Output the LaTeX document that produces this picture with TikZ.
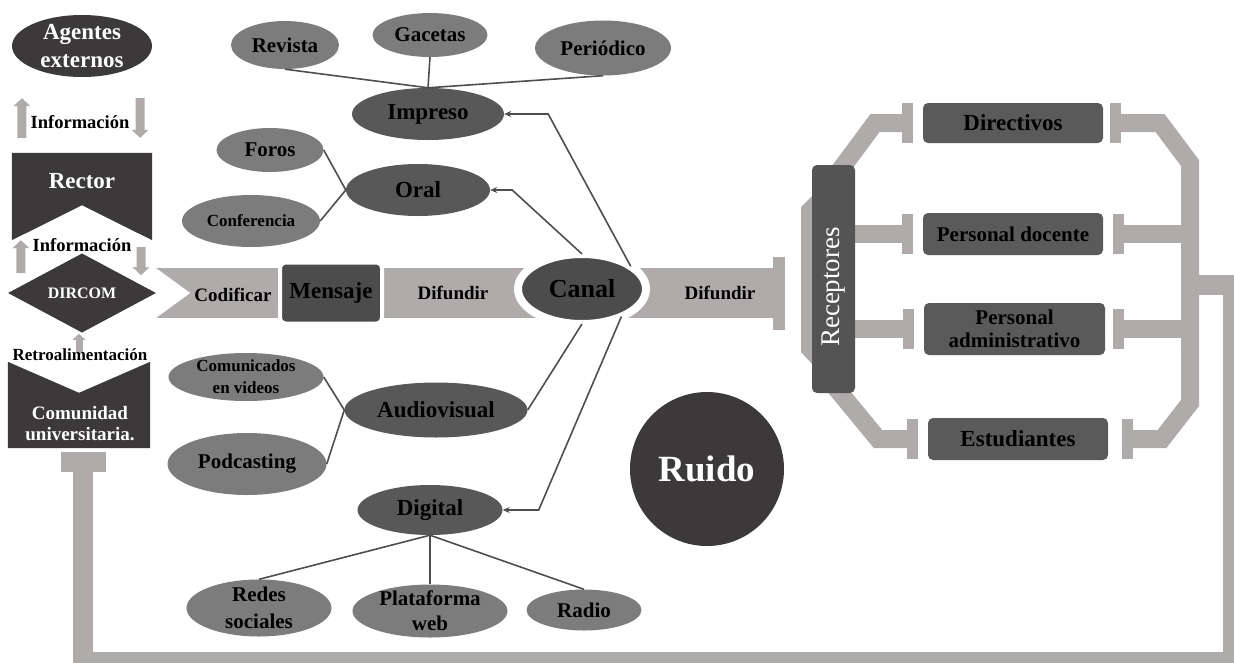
\documentclass[tikz,border=0pt]{standalone}
\usepackage{fontspec}
\setmainfont{Liberation Serif}
\usetikzlibrary{shapes.geometric,arrows.meta,backgrounds}
\definecolor{oscurogris}{RGB}{59,57,57}
\definecolor{ramagris}{RGB}{88,88,88}
\definecolor{canalgris}{RGB}{76,76,76}
\definecolor{hojagris}{RGB}{124,124,124}
\definecolor{cajagris}{RGB}{90,90,90}
\definecolor{recgris}{RGB}{84,84,84}
\definecolor{bandagris}{RGB}{175,171,171}
\definecolor{lineagris}{RGB}{78,78,78}
\newcommand{\fuente}[2]{\fontsize{#1}{#2}\selectfont\bfseries}
\tikzset{
  punta/.tip={Triangle[length=8pt 0 0,width=17pt 0 0,line width=0pt 0 0]},
  puntita/.tip={Triangle[length=6pt 0 0,width=13pt 0 0,line width=0pt 0 0]},
  tapa/.tip={Rectangle[length=11pt 0 0,width=40pt 0 0,line width=0pt 0 0]},
  tapagrande/.tip={Rectangle[length=12pt 0 0,width=73pt 0 0,line width=0pt 0 0]},
  tapacom/.tip={Rectangle[length=20pt 0 0,width=45pt 0 0,line width=0pt 0 0]}
}
\begin{document}
\begin{tikzpicture}[x=1pt,y=1pt,
  hoja/.style={ellipse,fill=hojagris,inner sep=0pt,font=\fuente{21}{26},align=center},
  rama/.style={ellipse,fill=ramagris,inner sep=0pt,font=\fuente{23}{28}},
  oscuro/.style={fill=oscurogris,text=white},
  publico/.style={rectangle,rounded corners=5pt,fill=cajagris,minimum width=180pt,inner sep=2pt,align=center},
  rotulo/.style={inner sep=1pt,font=\fuente{19}{22}},
  conector/.style={draw=lineagris,line width=1.6pt},
  flecha/.style={conector,-{Stealth[length=7pt 0 0,width=6pt 0 0]}},
  info/.style={draw=bandagris,line width=9pt,-punta},
  tband/.style={draw=bandagris,line width=18pt,-tapa}]
\useasboundingbox (0,0) rectangle (1234,-662);
% emisor y fuentes
\node[ellipse,oscuro,minimum width=140pt,minimum height=62pt,inner sep=-8pt,font=\fuente{23}{28},align=center] (agentes) at (82,-46) {Agentes\\externos};
\node[minimum width=140pt,minimum height=87pt,inner sep=0pt] (rector) at (82,-196.5) {};
\fill[oscurogris] (rector.north west) -- (rector.north east) -- (rector.south east) -- ([yshift=35pt]rector.south) -- (rector.south west) -- cycle;
\node[text=white,font=\fuente{23}{28}] (rectortxt) at (82,-181) {Rector};
\node[font=\fuente{18.5}{22}] (info1) at (80,-122) {Información};
\node[font=\fuente{18.5}{22}] (info2) at (82,-245) {Información};
\node[diamond,oscuro,minimum width=148pt,minimum height=70pt,inner sep=0pt,font=\fuente{16}{18}] (dircom) at (82,-293) {DIRCOM};
\node[font=\fuente{17}{20}] (retro) at (80,-355) {Retroalimentación};
\node[minimum width=142pt,minimum height=86pt,inner sep=0pt] (comunidad) at (79,-405) {};
\fill[oscurogris] (comunidad.north west) -- ([yshift=-31pt]comunidad.north) -- (comunidad.north east) -- (comunidad.south east) -- (comunidad.south west) -- cycle;
\node[text=white,font=\fuente{19}{21},align=center] (comunidadtxt) at (80,-424) {Comunidad\\universitaria.};
\draw[info] ([xshift=10pt,yshift=15pt]rector.north west) -- ([xshift=-60pt,yshift=-21pt]agentes.south);
\draw[info] ([xshift=58pt,yshift=-21pt]agentes.south) -- ([xshift=-12pt,yshift=15pt]rector.north east);
\draw[info] ([xshift=-61pt,yshift=-20pt]dircom.north) -- ([xshift=9pt]rector.south west);
\draw[info] ([xshift=-11pt,yshift=-7pt]rector.south east) -- ([xshift=59pt,yshift=-22pt]dircom.north);
\draw[draw=bandagris,line width=7pt,-puntita] ([xshift=-3pt,yshift=-19pt]dircom.south) -- ([xshift=-3pt,yshift=-1pt]dircom.south);
% mensaje y canal
\node[rectangle,rounded corners=6pt,fill=canalgris,draw=white,line width=4pt,minimum width=102pt,minimum height=61pt,font=\fuente{23}{28}] (mensaje) at (331,-293) {Mensaje};
\node[ellipse,fill=canalgris,draw=white,line width=8pt,outer sep=0pt,minimum width=128pt,minimum height=70pt,font=\fuente{26}{30}] (canal) at (582,-289) {Canal};
\node[rotulo] (codificar) at (233,-295) {Codificar};
\node[rotulo] (difundirA) at (453,-293) {Difundir};
\node[rotulo] (difundirB) at (720,-293) {Difundir};
\coordinate (llegada) at (785,-293);
% medios
\node[rama,minimum width=152pt,minimum height=52pt] (impreso) at (428,-114) {Impreso};
\node[hoja,minimum width=108pt,minimum height=48pt] (revista) at (285,-45) {Revista};
\node[hoja,minimum width=115pt,minimum height=44pt] (gacetas) at (430,-35) {Gacetas};
\node[hoja,minimum width=136pt,minimum height=55pt] (periodico) at (603,-48) {Periódico};
\node[rama,minimum width=144pt,minimum height=52pt] (oral) at (418,-190) {Oral};
\node[hoja,minimum width=107pt,minimum height=44pt] (foros) at (270,-150) {Foros};
\node[hoja,minimum width=138pt,minimum height=52pt,font=\fuente{17}{20}] (conferencia) at (251,-221) {Conferencia};
\node[rama,minimum width=183pt,minimum height=55pt] (audio) at (436,-410) {Audiovisual};
\node[hoja,minimum width=155pt,minimum height=48pt,inner sep=-8pt,font=\fuente{17}{22}] (comunicados) at (246,-377) {Comunicados\\en videos};
\node[hoja,minimum width=159pt,minimum height=62pt] (podcasting) at (247,-464) {Podcasting};
\node[rama,minimum width=145pt,minimum height=50pt] (digital) at (430,-510) {Digital};
\node[hoja,minimum width=145pt,minimum height=57pt,inner sep=-8pt,font=\fuente{21}{27}] (redes) at (259,-608) {Redes\\sociales};
\node[hoja,minimum width=155pt,minimum height=53pt,inner sep=-8pt,font=\fuente{21}{25}] (plataforma) at (430,-611) {Plataforma\\web};
\node[hoja,minimum width=115pt,minimum height=41pt] (radio) at (584,-610) {Radio};
\foreach \h in {revista,gacetas,periodico} \draw[conector] (\h.south) -- (impreso.north);
\foreach \h in {foros,conferencia} \draw[conector] (\h.east) -- (oral.west);
\foreach \h in {comunicados,podcasting} \draw[conector] (\h.east) -- (audio.west);
\foreach \h in {redes,plataforma,radio} \draw[conector] (digital.south) -- (\h.north);
\draw[flecha] (canal.25) -- ([xshift=44pt]impreso.east) -- (impreso.east);
\draw[flecha] (canal.north) -- ([xshift=22pt]oral.east) -- (oral.east);
\draw[conector] (canal.south) -- (audio.east);
\draw[flecha] (canal.-35) -- ([xshift=36pt]digital.east) -- (digital.east);
\node[circle,oscuro,minimum size=154pt,font=\fuente{37}{40}] (ruido) at (707,-469) {Ruido};
% receptores
\node[rectangle,rounded corners=5pt,fill=recgris,rotate=90,minimum width=228pt,minimum height=43pt,text=white,font=\fontsize{27}{30}\selectfont] (rec) at (833.5,-279) {Receptores\hspace*{16pt}};
\node[publico,minimum height=40pt,font=\fuente{23}{26}] (dir) at (1013,-123) {Directivos};
\node[publico,minimum height=42pt,font=\fuente{21}{24}] (doc) at (1013,-234) {Personal docente};
\node[publico,minimum width=181pt,minimum height=52pt,font=\fuente{21}{23}] (adm) at (1014.5,-329) {Personal\\administrativo};
\node[publico,minimum height=42pt,font=\fuente{23}{26}] (est) at (1018,-439) {Estudiantes};
\coordinate (retorno) at (1190,-285);
\begin{scope}[on background layer]
\draw[draw=bandagris,line width=50pt,-tapagrande] (dircom.east) -- (llegada);
\fill[white] ([xshift=-3pt,yshift=27pt]dircom.east) -- ([xshift=34pt]dircom.east) -- ([xshift=-3pt,yshift=-27pt]dircom.east) -- cycle;
\fill[bandagris] (813,-195) -- (801,-207) -- (801,-352) -- (813,-365) -- cycle;
\draw[tband] ([yshift=100pt]rec.center) -- (875,-123) -- ([xshift=-10pt]dir.west);
\draw[tband] (rec.center |- doc.west) -- ([xshift=-10pt]doc.west);
\draw[tband] (rec.center |- adm.west) -- ([xshift=-10pt]adm.west);
\draw[tband] ([yshift=-106pt]rec.center) -- (878,-439) -- ([xshift=-10pt]est.west);
\draw[tband,tapa-tapa] ([xshift=7pt]dir.east) -- (1160,-123) -- (1190,-163) -- (1190,-403) -- (1162,-439) -- ([xshift=14pt]est.east);
\draw[tband] (retorno |- doc.east) -- ([xshift=10pt]doc.east);
\draw[tband] (retorno |- adm.east) -- ([xshift=8pt]adm.east);
\draw[draw=bandagris,line width=20pt,-tapacom] (retorno) -- (1233,-285) -- (1233,-662) -- (83,-662) -- ([xshift=4pt,yshift=-4pt]comunidad.south);
\end{scope}
\end{tikzpicture}
\end{document}
